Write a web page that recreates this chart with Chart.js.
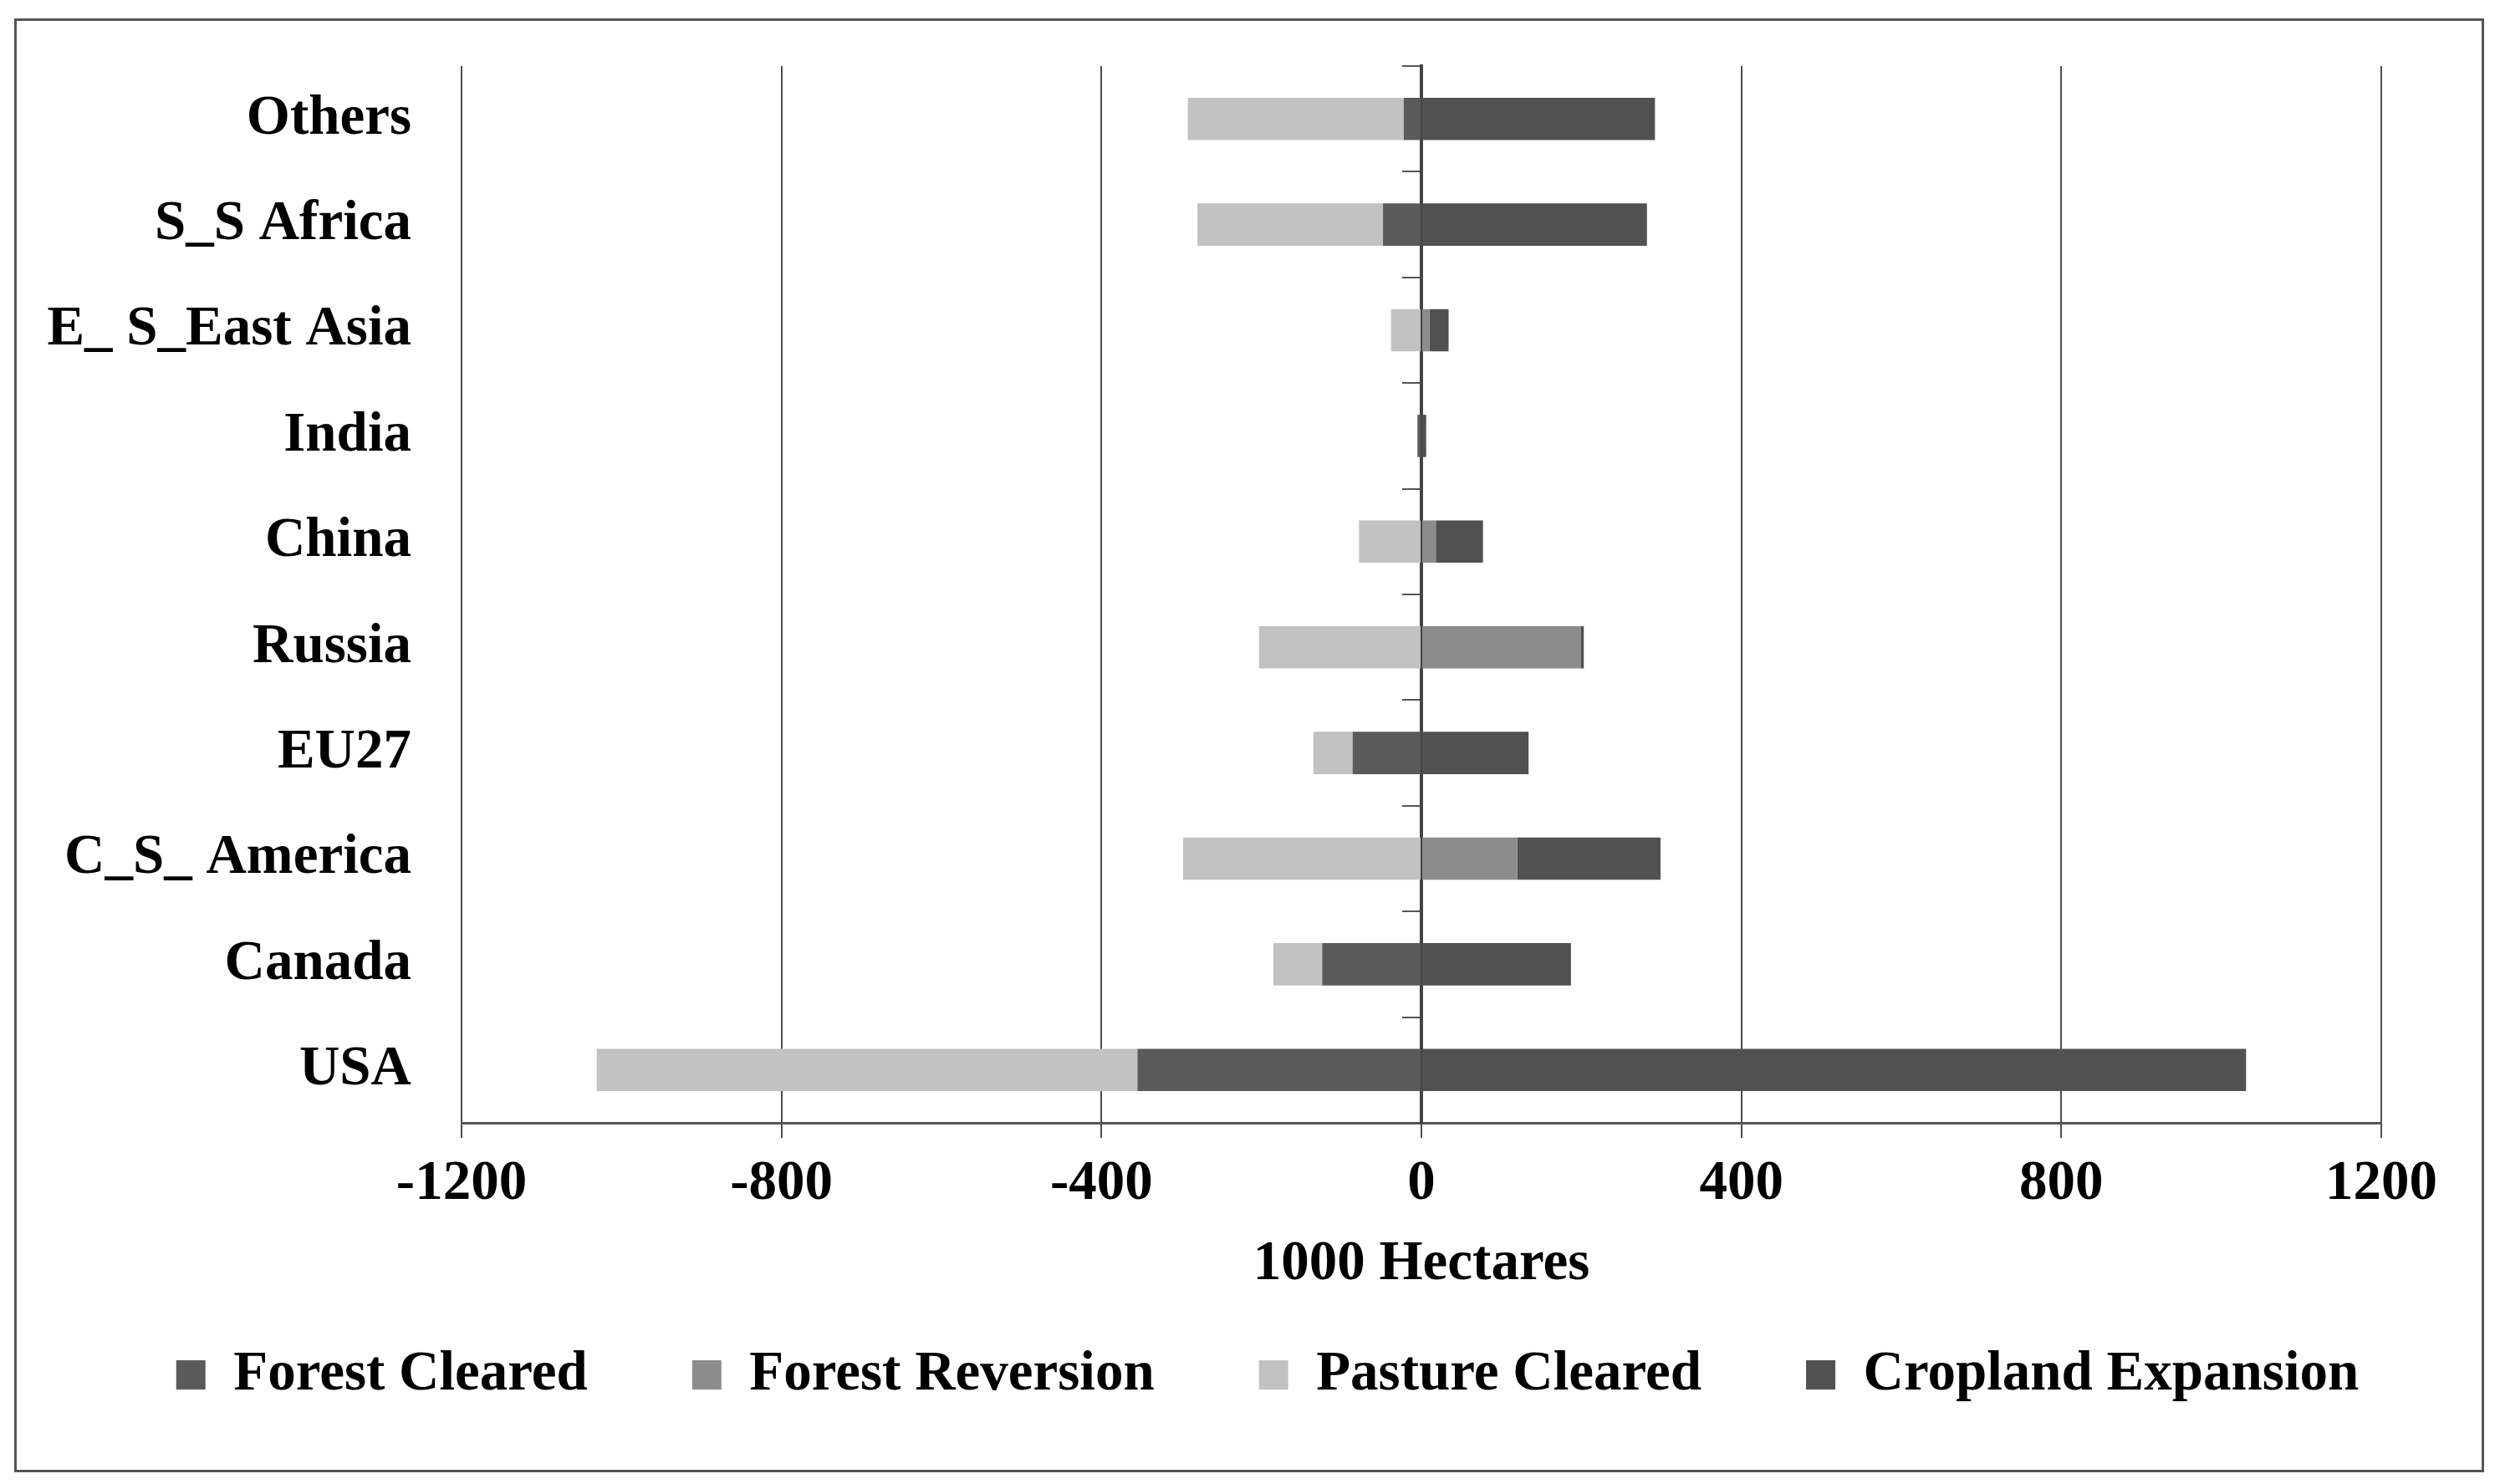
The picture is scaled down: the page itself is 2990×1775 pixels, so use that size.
<!DOCTYPE html>
<html lang="en">
<head>
  <meta charset="UTF-8">
  <title>Land Use Change by Region</title>
  <script src="https://cdn.jsdelivr.net/npm/chart.js"></script>
  <style>
    body { margin: 0; background: #fff; width: 2990px; height: 1775px; position: relative; overflow: hidden; }
    #frame { position: absolute; left: 17px; top: 22px; width: 2954px; height: 1739px; box-sizing: border-box; border: 3px solid #555; }
    #wrap { position: absolute; left: 42px; top: 25px; width: 2948px; height: 1733px; }
  </style>
</head>
<body>

  <div id="frame"></div>
  <div id="wrap"><canvas id="landChart"></canvas></div>

  <script>
    // regions, top to bottom
    const regions = ['Others', 'S_S Africa', 'E_ S_East Asia', 'India', 'China', 'Russia', 'EU27', 'C_S_ America', 'Canada', 'USA'];

    // 1000 hectares
    const forestCleared     = [-22, -48, 0, -5, 0, 0, -86, 0, -124, -355];
    const forestReversion   = [0, 0, 10, 0, 18, 199, 0, 120, 0, 0];
    const pastureCleared    = [-270, -232, -38, 0, -78, -203, -49, -298, -61, -676];
    const croplandExpansion = [292, 282, 24, 6, 59, 4, 134, 179, 187, 1031];

    const xTicks = [-1200, -800, -400, 0, 400, 800, 1200];

    const bigFont = { family: 'Liberation Serif', size: 67, weight: 'bold' };

    const ctx = document.getElementById('landChart').getContext('2d');

    const landChart = new Chart(ctx, {
      type: 'bar',
      data: {
        labels: regions,
        datasets: [
          { label: 'Forest Cleared', data: forestCleared, backgroundColor: '#5a5a5a' },
          { label: 'Forest Reversion', data: forestReversion, backgroundColor: '#8c8c8c' },
          { label: 'Pasture Cleared', data: pastureCleared, backgroundColor: '#c2c2c2' },
          { label: 'Cropland Expansion', data: croplandExpansion, backgroundColor: '#515151' }
        ]
      },
      options: {
        indexAxis: 'y',
        responsive: true,
        maintainAspectRatio: false,
        animation: false,
        datasets: { bar: { categoryPercentage: 1, barPercentage: 0.4, borderWidth: 0, xAxisID: 'x', yAxisID: 'y' } },
        layout: { padding: { top: 54, bottom: 70, left: 0, right: 0 } },
        scales: {
          x: {
            stacked: true,
            min: xTicks[0],
            max: xTicks[xTicks.length - 1],
            afterBuildTicks: (scale) => { scale.ticks = xTicks.map(v => ({ value: v })); },
            ticks: { font: bigFont, color: '#000', padding: 15, callback: (v) => String(v) },
            grid: { color: '#4d4d4d', lineWidth: 2, tickLength: 18 },
            border: { color: '#555', width: 3 },
            title: { display: true, text: '1000 Hectares', font: bigFont, color: '#000', padding: { top: 0, bottom: -67 } },
            afterFit: (scale) => { scale.height = 143; }
          },
          y: {
            stacked: true,
            // tick marks are not drawn, their length only sets the gap to the labels
            grid: { display: false, drawTicks: true, tickLength: 55 },
            border: { display: false },
            ticks: { font: bigFont, color: '#000', padding: 5 },
            afterFit: (scale) => { scale.width = 510; }
          },
          // vertical axis line at zero with its tick marks
          y2: {
            type: 'category',
            axis: 'y',
            position: { x: 0 },
            offset: true,
            grid: { offset: true, drawOnChartArea: false, tickLength: 21, color: '#555', lineWidth: 2 },
            border: { color: '#444', width: 4 },
            ticks: { display: false }
          },
          // empty right-hand axis, only keeps room to the right of the plot
          yRight: {
            type: 'category',
            axis: 'y',
            position: 'right',
            grid: { display: false, drawTicks: false },
            border: { display: false },
            ticks: { display: false },
            afterFit: (scale) => { scale.width = 142; }
          }
        },
        plugins: {
          legend: {
            position: 'bottom',
            labels: { font: bigFont, color: '#000', boxWidth: 35, boxHeight: 35, padding: 125 }
          },
          tooltip: { enabled: false }
        }
      }
    });
  </script>
</body>
</html>
